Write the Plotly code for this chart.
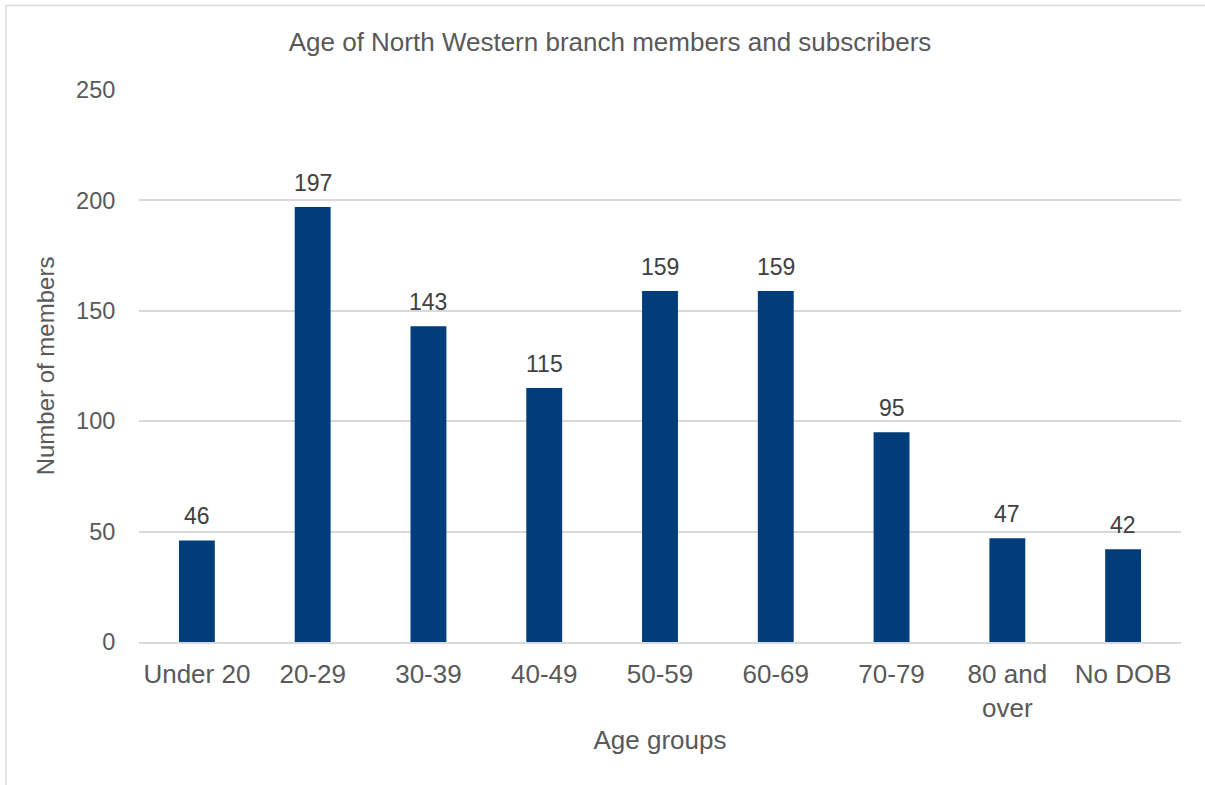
import plotly.graph_objects as go

categories = ["Under 20", "20-29", "30-39", "40-49", "50-59", "60-69", "70-79", "80 and<br>over", "No DOB"]
members = [46, 197, 143, 115, 159, 159, 95, 47, 42]
y_ticks = [0, 50, 100, 150, 200, 250]

W, H = 1205, 785
L, R, T, B = 139, 24, 90, 143
pw, ph = W - L - R, H - T - B

def px_x(x):
    return (x - L) / pw

def px_y(y):
    return (H - B - y) / ph

FONT = "Liberation Sans, Arial"

fig = go.Figure()
fig.add_trace(go.Bar(
    x=categories, y=members,
    marker=dict(color="#003D7A", line=dict(width=0)),
    width=0.31,
    hoverinfo="x+y",
))

for c, v in zip(categories, members):
    fig.add_annotation(x=c, y=v, text=str(v), showarrow=False,
                       yanchor="bottom", yshift=9,
                       font=dict(family=FONT, size=23, color="#404040"))

fig.add_shape(type="rect", xref="paper", yref="paper",
              x0=px_x(6), x1=px_x(1215), y0=px_y(795), y1=px_y(5.5),
              line=dict(color="#D9D9D9", width=1.5), fillcolor="rgba(0,0,0,0)", layer="below")

fig.update_layout(
    width=W, height=H,
    margin=dict(l=L, r=R, t=T, b=B, pad=0),
    paper_bgcolor="white", plot_bgcolor="white",
    font=dict(family=FONT, size=24, color="#595959"),
    title=dict(text="Age of North Western branch members and subscribers",
               x=px_x(610), xref="paper", xanchor="center", y=1 - 42 / H, yanchor="middle",
               font=dict(size=26, color="#595959")),
    showlegend=False,
    xaxis=dict(
        title=dict(text="Age groups", standoff=9, font=dict(size=26)),
        showgrid=False, showline=True, linecolor="#D9D9D9", linewidth=1.5,
        ticks="outside", ticklen=8, tickcolor="rgba(0,0,0,0)",
        tickfont=dict(size=26, color="#595959"),
    ),
    yaxis=dict(
        title=dict(text="Number of members", standoff=14, font=dict(size=24)),
        range=[0, 250], tickvals=y_ticks,
        showgrid=True, gridcolor="#D9D9D9", gridwidth=1.5,
        zeroline=False, showline=False,
        ticks="outside", ticklen=18, tickcolor="rgba(0,0,0,0)",
        tickfont=dict(size=23.5, color="#595959"),
    ),
)

fig.write_html("out.html", config={"displayModeBar": False},
               post_script="document.body.style.margin='0';document.body.style.padding='0';")
